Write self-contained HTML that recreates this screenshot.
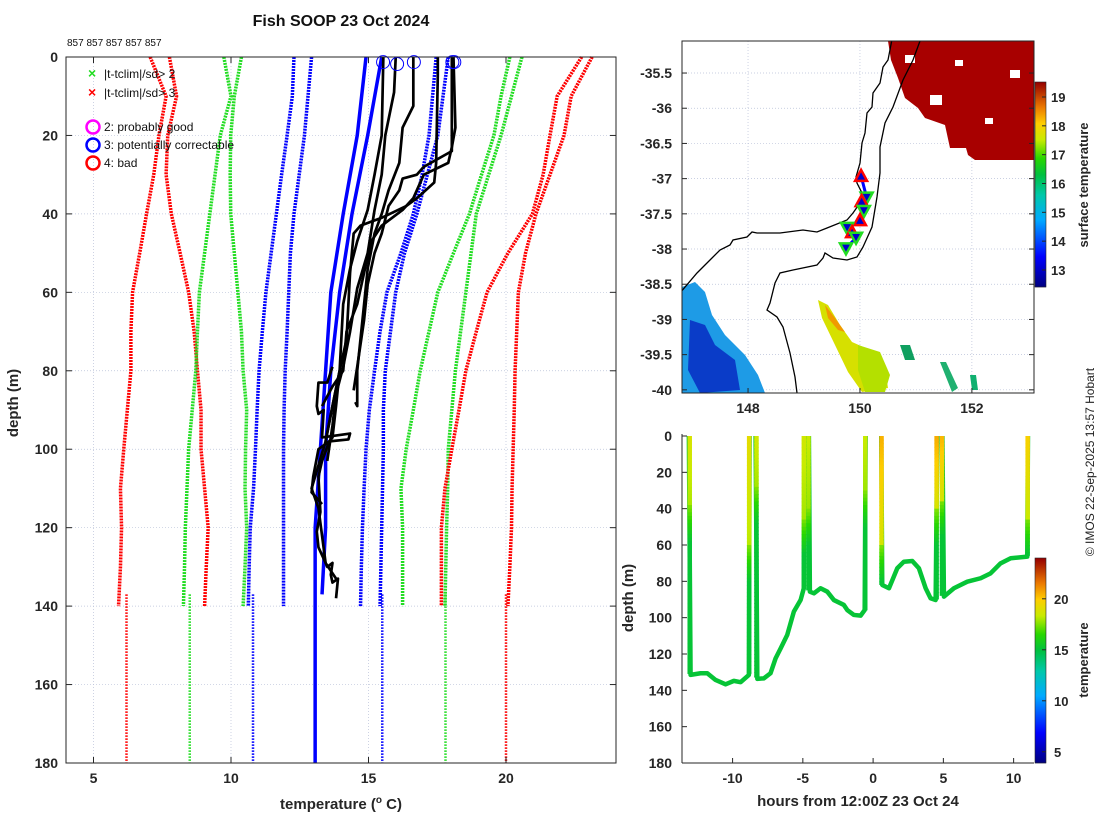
<!DOCTYPE html>
<html><head><meta charset="utf-8"><style>
html,body{margin:0;padding:0;background:#fff}
svg{display:block;font-family:"Liberation Sans",sans-serif}
</style></head><body>
<svg id="fig" width="1100" height="820" viewBox="0 0 1100 820" xmlns="http://www.w3.org/2000/svg">
<rect width="1100" height="820" fill="#fff"/>
<text x="341" y="26" text-anchor="middle" font-size="16" font-weight="bold" fill="#111">Fish SOOP 23 Oct 2024</text>
<text x="67" y="46" font-size="10" fill="#111">857 857 857 857 857</text>
<g id="left"></g>
<g id="map"></g>
<g id="bot"></g>
<text transform="translate(1094,462) rotate(-90)" text-anchor="middle" font-size="12" fill="#222">© IMOS 22-Sep-2025 13:57 Hobart</text>
</svg>
<script>
// ---------- data: profile plot ----------
const depths=[0,10,20,30,40,50,60,70,80,90,100,110,120,130,140];
const climRed1=[7.06,7.64,7.38,7.19,6.93,6.68,6.42,6.36,6.36,6.23,6.10,5.98,6.02,5.98,5.91];
const climRed2=[7.76,8.02,7.70,7.64,7.83,8.15,8.46,8.66,8.78,8.91,8.91,9.04,9.17,9.10,9.04];
const climGreen1=[9.74,10.0,9.61,9.42,9.23,9.04,8.85,8.78,8.72,8.59,8.46,8.40,8.34,8.31,8.27];
const climGreen2=[10.38,10.12,9.99,9.97,9.99,10.12,10.25,10.38,10.44,10.57,10.53,10.51,10.57,10.51,10.44];
const climBlue1=[12.29,12.23,12.04,11.84,11.65,11.46,11.27,11.14,11.02,10.95,10.89,10.82,10.70,10.66,10.63];
const climBlue2=[12.93,12.80,12.67,12.48,12.29,12.16,12.10,12.04,11.97,11.93,11.91,11.91,11.91,11.91,11.91];
const climBlue3=[17.46,17.33,17.20,16.95,16.63,16.18,15.67,15.42,15.22,15.03,14.91,14.84,14.78,14.74,14.71];
const climBlue4=[17.90,17.71,17.52,17.14,16.76,16.31,15.99,15.80,15.61,15.54,15.54,15.51,15.48,15.45,15.42];
const climGreen3=[20.14,19.82,19.56,19.11,18.67,18.09,17.52,17.20,16.88,16.63,16.37,16.18,16.24,16.24,16.24];
const climGreen4=[20.58,20.20,19.82,19.37,18.92,18.73,18.54,18.35,18.16,18.03,17.90,17.88,17.84,17.81,17.78];
const climRed3=[22.75,21.86,21.60,21.35,20.96,20.07,19.31,18.92,18.54,18.29,18.03,17.78,17.65,17.65,17.65];
const climRed4=[23.13,22.37,22.11,21.60,21.09,20.71,20.45,20.39,20.33,20.30,20.26,20.22,20.20,20.14,20.07];
const deepTemps=[6.2,8.5,10.8,15.5,17.8,20.0];
const deepColors=['#ff0000','#22dd22','#0000ff','#0000ff','#22dd22','#ff0000'];
const blueProfDepths1=[0,20,40,60,80,100,120,140,180];
const blueProf1=[14.91,14.59,14.08,13.63,13.44,13.25,13.06,13.06,13.06];
const blueProfDepths2=[0,20,40,60,80,100,120,137];
const blueProf2=[15.48,14.97,14.40,13.95,13.63,13.44,13.44,13.31];
const k1T=[15.54,15.48,15.22,14.97,14.59,14.33,14.08,13.95,13.69,13.44,12.93,13.18,13.44,13.82];
const k1D=[0,20,30,39,47,54,63,80,89,98,110,115,129,133];
const k2T=[15.99,15.93,15.61,15.48,15.22,14.97,14.59,14.33,14.08,13.82,13.69,13.50];
const k2D=[0,9,20,30,39,50,59,70,79,86,94,103];
const k3T=[16.63,16.63,16.24,16.12,15.73,15.48,15.22,14.97,14.84,14.59,14.59,14.52];
const k3D=[0,12.5,18,27,34,40,45,54,63,80,89,88];
const k4T=[17.52,17.52,17.46,17.39,16.76,16.37,15.48,14.71,14.46,14.33,14.20,13.95,13.69,13.44];
const k4D=[0,4.5,27,32,36,38,41,43,45,55,72,80,89,98];
const k5T=[18.03,18.03,17.01,16.76,16.24,16.12,15.73,15.48,15.22,14.97,14.84,14.59,14.46];
const k5D=[0,24,28,30,31,34,38,45,50,58,67,79,85];
const k6T=[18.09,18.16,18.03,17.90,17.01,16.63,16.24,15.48,15.10,14.84,14.59,14.20,14.08,13.69,13.31];
const k6D=[0,18,23,27,30,36,39,43,47,55,63,70,80,84,89];
const k7T=[13.95,13.82,13.69,13.57,13.31,13.18,13.25,13.12,13.18,13.44,13.50,13.69,13.63,13.69,13.89,13.82];
const k7D=[80,89,97,98,103,107,116,121,125,129,130,129,132,134,133,138];
const k8T=[13.69,13.50,13.18,13.12,13.18,13.37,13.31,14.33,14.27,13.57,13.18,12.99,12.93,13.06,13.31];
const k8D=[79,83,83,89,91,90,97,96,97.5,98,100,107,111,112,114];
const flagTemps=[15.53,16.04,16.65,18.05,18.12];
const flagDepths=[1.3,1.8,1.3,1.3,1.3];
const xTicks=[5,10,15,20];
const yTicks=[0,20,40,60,80,100,120,140,160,180];

// ---------- data: map ----------
const trackLon=[150.02,150.12,150.03,150.07,150.0,149.77,149.86,149.93,149.75];
const trackLat=[-36.96,-37.27,-37.32,-37.46,-37.59,-37.70,-37.76,-37.84,-37.99];
const trackDir=['up','down','up','down','up','down','up','down','down'];
const lonTicks=[148,150,152];
const latTicks=[-35.5,-36,-36.5,-37,-37.5,-38,-38.5,-39,-39.5,-40];
const sstTicks=[13,14,15,16,17,18,19];

// ---------- data: depth-time ----------
const traceT=[[-13.11,-12.99,-12.28,-11.80,-11.21,-10.50,-9.91,-9.43,-8.84,-8.79],
 [-8.36,-8.24,-7.77,-7.30,-6.94,-6.58,-6.11,-5.64,-5.16,-4.93,-4.88],
 [-4.57,-4.50,-4.21,-3.74,-3.26,-2.79,-2.08,-1.84,-1.37,-0.89,-0.60,-0.53],
 [0.58,0.65,1.13,1.72,2.19,2.79,3.26,3.74,4.09,4.45,4.57],
 [4.93,5.04,5.75,6.70,7.65,8.36,9.07,9.79,10.97,11.02]];
const traceD=[[0,131.5,130.6,130.6,134.3,136.7,134.8,135.5,131.5,0],
 [0,133.7,133.4,130.6,122.4,116.9,109.5,96.7,90.3,83.8,0],
 [0,85.7,86.6,83.8,85.7,90.3,93,95.8,98.5,98.9,95.8,0],
 [0,82,83.8,72.8,69.2,68.8,72.8,83.8,89.3,90.3,0],
 [0,88.4,83.8,80.2,78.3,75.6,70.1,67.3,66.4,0]];
const spikeT=[-13.05,-8.82,-8.30,-4.93,-4.60,-0.56,0.60,4.52,4.90,11.0];
const spikeBottom=[131,131,133,84,85,96,82,90,88,66];
const spikeSurfTemp=[18.8,19.2,18.6,18.6,18.4,18.4,20.5,20.6,20.4,19.8];
const spikeMixD=[38,60,28,45,40,30,60,40,35,45];
const tTicks=[-10,-5,0,5,10];
const dTicks=[0,20,40,60,80,100,120,140,160,180];
const tempBarTicks=[5,10,15,20];

const NS='http://www.w3.org/2000/svg';
function mk(parent,tag,attrs){const e=document.createElementNS(NS,tag);for(const k in attrs)e.setAttribute(k,attrs[k]);parent.appendChild(e);return e;}
const stops=[[0,[0,0,127]],[0.15,[0,0,255]],[0.33,[0,170,255]],[0.45,[0,200,170]],[0.55,[0,192,64]],[0.63,[40,215,0]],[0.72,[200,235,0]],[0.8,[255,205,0]],[0.88,[235,120,0]],[1,[150,0,0]]];
function cmap(v){v=Math.max(0,Math.min(1,v));for(let i=1;i<stops.length;i++){if(v<=stops[i][0]){const a=stops[i-1],b=stops[i];const f=(v-a[0])/(b[0]-a[0]);const c=a[1].map((x,j)=>Math.round(x+(b[1][j]-x)*f));return 'rgb('+c.join(',')+')';}}return 'rgb(150,0,0)';}

// ================= LEFT PLOT =================
(function(){
const g=document.getElementById('left');
const L=66,R=616,T=57,B=763;
const xs=t=>L+(t-4)/20*(R-L), ys=d=>T+d/180*(B-T);
xTicks.forEach(v=>{const l=mk(g,'line',{x1:xs(v),x2:xs(v),y1:T,y2:B,stroke:'#b8c0d8','stroke-width':0.7,'stroke-dasharray':'1 2'});
});
yTicks.forEach(v=>{const l=mk(g,'line',{x1:L,x2:R,y1:ys(v),y2:ys(v),stroke:'#b8c0d8','stroke-width':0.7,'stroke-dasharray':'1 2'});
});
const clim=[[climRed1,'#ff0000'],[climRed2,'#ff0000'],[climGreen1,'#22dd22'],[climGreen2,'#22dd22'],[climBlue1,'#0000ff'],[climBlue2,'#0000ff'],[climBlue3,'#0000ff'],[climBlue4,'#0000ff'],[climGreen3,'#22dd22'],[climGreen4,'#22dd22'],[climRed3,'#ff0000'],[climRed4,'#ff0000']];
clim.forEach(([arr,c])=>{const p=mk(g,'polyline',{points:arr.map((t,i)=>xs(t)+','+ys(depths[i])).join(' '),fill:'none',stroke:c,'stroke-width':3.5,'stroke-dasharray':'2 1'});
});
deepTemps.forEach((t,i)=>{const p=mk(g,'line',{x1:xs(t),x2:xs(t),y1:ys(137),y2:B,stroke:deepColors[i],'stroke-width':2.5,'stroke-dasharray':'1.5 1.5'});
});
[[blueProf1,blueProfDepths1],[blueProf2,blueProfDepths2]].forEach(([a,d])=>{const p=mk(g,'polyline',{points:a.map((t,i)=>xs(t)+','+ys(d[i])).join(' '),fill:'none',stroke:'#0000ff','stroke-width':3.5});
});
[[k1T,k1D],[k2T,k2D],[k3T,k3D],[k4T,k4D],[k5T,k5D],[k6T,k6D],[k7T,k7D],[k8T,k8D]].forEach(([a,d])=>{const p=mk(g,'polyline',{points:a.map((t,i)=>xs(t)+','+ys(d[i])).join(' '),fill:'none',stroke:'#000','stroke-width':2.7,'stroke-linejoin':'round'});
});
flagTemps.forEach((t,i)=>{const c=mk(g,'circle',{cx:xs(t),cy:ys(flagDepths[i]),r:6.5,fill:'none',stroke:'#0000ff','stroke-width':1});
});
// legend
const lg=mk(g,'g',{});
[['#22dd22','|t-tclim|/sd> 2',74],['#ff0000','|t-tclim|/sd> 3',93]].forEach(([c,s,y])=>{
 const t=mk(lg,'text',{x:88,y:y+4,'font-size':14,'font-weight':'bold',fill:c});t.textContent='×';
 const u=mk(lg,'text',{x:104,y:y+4,'font-size':12,fill:'#111'});u.textContent=s;});
[['#ff00ff','2: probably good',127],['#0000ff','3: potentially correctable',145],['#ff0000','4: bad',163]].forEach(([c,s,y])=>{
 const ci=mk(lg,'circle',{cx:93,cy:y,r:6.5,fill:'none',stroke:c,'stroke-width':2.5});
 const u=mk(lg,'text',{x:104,y:y+4,'font-size':12,fill:'#111'});u.textContent=s;});
// axes box
const bx=mk(g,'rect',{x:L,y:T,width:R-L,height:B-T,fill:'none',stroke:'#262626','stroke-width':1});
xTicks.forEach(v=>{mk(g,'line',{x1:xs(v),x2:xs(v),y1:B,y2:B-6,stroke:'#262626'});mk(g,'line',{x1:xs(v),x2:xs(v),y1:T,y2:T+6,stroke:'#262626'});
 const t=mk(g,'text',{x:xs(v),y:B+20,'text-anchor':'middle','font-size':14,'font-weight':'bold',fill:'#262626'});t.textContent=v;});
yTicks.forEach(v=>{mk(g,'line',{x1:L,x2:L+6,y1:ys(v),y2:ys(v),stroke:'#262626'});mk(g,'line',{x1:R,x2:R-6,y1:ys(v),y2:ys(v),stroke:'#262626'});
 const t=mk(g,'text',{x:L-8,y:ys(v)+5,'text-anchor':'end','font-size':14,'font-weight':'bold',fill:'#262626'});t.textContent=v;});
const xl=mk(g,'text',{x:341,y:809,'text-anchor':'middle','font-size':15,'font-weight':'bold',fill:'#262626'});xl.innerHTML='temperature (<tspan dy="-6" font-size="10">o</tspan><tspan dy="6"> C)</tspan>';
const yl=mk(g,'text',{transform:'translate(18,403) rotate(-90)','text-anchor':'middle','font-size':15,'font-weight':'bold',fill:'#262626'});yl.textContent='depth (m)';
})();

// ================= MAP =================
(function(){
const g=document.getElementById('map');
const L=682,R=1034,T=41,B=393;
const lon0=146.82,lon1=153.11,lat0=-35.045,lat1=-40.045;
const xs=v=>L+(v-lon0)/(lon1-lon0)*(R-L), ys=v=>T+(v-lat0)/(lat1-lat0)*(B-T);
mk(g,'defs',{}).innerHTML='<clipPath id="mclip"><rect x="682" y="41" width="352" height="352"/></clipPath>';
const inner=mk(g,'g',{'clip-path':'url(#mclip)'});
lonTicks.forEach(v=>{const l=mk(inner,'line',{x1:xs(v),x2:xs(v),y1:T,y2:B,stroke:'#b8c0d8','stroke-width':0.7,'stroke-dasharray':'1 2'});});
latTicks.forEach(v=>{const l=mk(inner,'line',{x1:L,x2:R,y1:ys(v),y2:ys(v),stroke:'#b8c0d8','stroke-width':0.7,'stroke-dasharray':'1 2'});});
const sst=[
 ['888,41 1034,41 1034,160 975,160 968,155 966,148 950,148 945,125 925,118 918,108 905,98 898,78 891,60','#a80000'],
 ['682,287 695,282 705,292 712,315 725,335 745,355 758,375 765,393 682,393','#1e9be6'],
 ['690,320 705,325 715,345 735,360 740,390 700,393 688,370','#0a3cc8'],
 ['818,300 828,305 840,325 852,342 870,350 885,368 888,388 862,392 848,372 835,345 822,318','#d6e000'],
 ['825,305 835,318 845,332 838,330 828,318','#f09a00'],
 ['858,345 880,352 890,375 885,392 865,392 858,370','#b4e000'],
 ['940,362 946,362 958,388 952,392','#20b070'],
 ['900,345 910,345 915,360 905,360','#10a060'],
 ['970,375 976,375 978,390 972,390','#10b070']];
sst.forEach(([p,c])=>{const e=mk(inner,'polygon',{points:p,fill:c});});
[[930,95,12,10],[985,118,8,6],[1010,70,10,8],[905,55,10,8],[955,60,8,6]].forEach(([x,y,w,h])=>mk(inner,'rect',{x,y,width:w,height:h,fill:'#fff'}));
const coast=mk(inner,'polyline',{points:'891.7,41 888,60 883,67 880,83 873,93 872,107 867,113 865,133 862,143 860,163 856,177 857,183 862,193 860,203 853,213 847,220 827,228 817,232 803,230 780,233 757,233 752,232 747,237 733,240 730,245 720,250 710,260 697,273 680,293',fill:'none',stroke:'#000','stroke-width':1.3});

const shelf=mk(inner,'polyline',{points:'920,41 913,60 903,80 893,107 885,123 880,147 880,173 877,197 872,227 863,247 857,257 847,260 833,258 825,253 823,258 817,265 793,270 780,273 775,283 770,303 767,310 777,317 783,327 790,353 795,377 797,393',fill:'none',stroke:'#000','stroke-width':1.3});

const tr=mk(inner,'polyline',{points:trackLon.map((v,i)=>xs(v)+','+ys(trackLat[i])).join(' '),fill:'none',stroke:'#0000ff','stroke-width':3});

trackLon.forEach((v,i)=>{const x=xs(v),y=ys(trackLat[i]);const up=trackDir[i]==='up';
 const pts=up?`${x},${y-6} ${x-6},${y+5} ${x+6},${y+5}`:`${x},${y+6} ${x-6},${y-5} ${x+6},${y-5}`;
 const p=mk(inner,'polygon',{points:pts,fill:'#0000cc',stroke:up?'#ff0000':'#22dd22','stroke-width':2.5});
 });
const bx=mk(g,'rect',{x:L,y:T,width:R-L,height:B-T,fill:'none',stroke:'#262626','stroke-width':1});
lonTicks.forEach(v=>{mk(g,'line',{x1:xs(v),x2:xs(v),y1:B,y2:B-5,stroke:'#262626'});
 const t=mk(g,'text',{x:xs(v),y:B+20,'text-anchor':'middle','font-size':14,'font-weight':'bold',fill:'#262626'});t.textContent=v;});
latTicks.forEach(v=>{mk(g,'line',{x1:L,x2:L+5,y1:ys(v),y2:ys(v),stroke:'#262626'});mk(g,'line',{x1:R,x2:R-5,y1:ys(v),y2:ys(v),stroke:'#262626'});
 const t=mk(g,'text',{x:L-10,y:ys(v)+5,'text-anchor':'end','font-size':14,'font-weight':'bold',fill:'#262626'});t.textContent=v;});
// colorbar
const cb=mk(g,'g',{});
const vmin=12.41,vmax=19.52,cT=82,cB=287;const cy=v=>cB-(v-vmin)/(vmax-vmin)*(cB-cT);
for(let y=cT;y<cB;y++){const v=vmax-(y-cT)/(cB-cT)*(vmax-vmin);mk(cb,'rect',{x:1035,y:y,width:11,height:1.2,fill:cmap((v-vmin)/(vmax-vmin))});}
mk(cb,'rect',{x:1035,y:cT,width:11,height:cB-cT,fill:'none',stroke:'#262626','stroke-width':0.6});
sstTicks.forEach(v=>{mk(cb,'line',{x1:1046,x2:1042,y1:cy(v),y2:cy(v),stroke:'#262626'});
 const t=mk(cb,'text',{x:1051,y:cy(v)+5,'font-size':13,'font-weight':'bold',fill:'#262626'});t.textContent=v;});
const lt=mk(g,'text',{transform:'translate(1088,185) rotate(-90)','text-anchor':'middle','font-size':13,'font-weight':'bold',fill:'#262626'});lt.textContent='surface temperature';
})();

// ================= DEPTH-TIME =================
(function(){
const g=document.getElementById('bot');
const L=682,R=1034,T=434,B=763;
const t0=-13.6,t1=11.45,d0=-1.1,d1=180;
const xs=v=>L+(v-t0)/(t1-t0)*(R-L), ys=v=>T+(v-d0)/(d1-d0)*(B-T);
const base=cmap((15.2-3.9)/(24-3.9));
traceT.forEach((arr,k)=>{const p=mk(g,'polyline',{points:arr.map((t,i)=>xs(t)+','+ys(traceD[k][i])).join(' '),fill:'none',stroke:base,'stroke-width':4.5,'stroke-linejoin':'round'});
 });
spikeT.forEach((t,i)=>{const sg=mk(g,'g',{});
 const step=2;for(let d=0;d<spikeBottom[i];d+=step){let v;const m=spikeMixD[i];
  if(d<m)v=spikeSurfTemp[i]-(spikeSurfTemp[i]-17.5)*d/m*0.6;else v=Math.max(15.2,17.5-(d-m)*0.12);
  mk(sg,'line',{x1:xs(t),x2:xs(t),y1:ys(d),y2:ys(Math.min(d+step+0.5,spikeBottom[i])),stroke:cmap((v-3.9)/(24-3.9)),'stroke-width':4.5});}});
mk(g,'line',{x1:L,x2:L,y1:T,y2:B,stroke:'#262626'});mk(g,'line',{x1:L,x2:R,y1:B,y2:B,stroke:'#262626'});
tTicks.forEach(v=>{mk(g,'line',{x1:xs(v),x2:xs(v),y1:B,y2:B-5,stroke:'#262626'});
 const t=mk(g,'text',{x:xs(v),y:B+20,'text-anchor':'middle','font-size':14,'font-weight':'bold',fill:'#262626'});t.textContent=v;});
dTicks.forEach(v=>{mk(g,'line',{x1:L,x2:L+5,y1:ys(v),y2:ys(v),stroke:'#262626'});
 const t=mk(g,'text',{x:L-10,y:ys(v)+5,'text-anchor':'end','font-size':14,'font-weight':'bold',fill:'#262626'});t.textContent=v;});
const xl=mk(g,'text',{x:858,y:806,'text-anchor':'middle','font-size':15,'font-weight':'bold',fill:'#262626'});xl.textContent='hours from 12:00Z 23 Oct 24';
const yl=mk(g,'text',{transform:'translate(633,598) rotate(-90)','text-anchor':'middle','font-size':15,'font-weight':'bold',fill:'#262626'});yl.textContent='depth (m)';
const cb=mk(g,'g',{});
const vmin=3.9,vmax=24,cT=558,cB=763;const cy=v=>cB-(v-vmin)/(vmax-vmin)*(cB-cT);
for(let y=cT;y<cB;y++){const v=vmax-(y-cT)/(cB-cT)*(vmax-vmin);mk(cb,'rect',{x:1035,y:y,width:11,height:1.2,fill:cmap((v-vmin)/(vmax-vmin))});}
mk(cb,'rect',{x:1035,y:cT,width:11,height:cB-cT,fill:'none',stroke:'#262626','stroke-width':0.6});
tempBarTicks.forEach(v=>{mk(cb,'line',{x1:1046,x2:1042,y1:cy(v),y2:cy(v),stroke:'#262626'});
 const t=mk(cb,'text',{x:1054,y:cy(v)+5,'font-size':13,'font-weight':'bold',fill:'#262626'});t.textContent=v;});
const lt=mk(g,'text',{transform:'translate(1088,660) rotate(-90)','text-anchor':'middle','font-size':13,'font-weight':'bold',fill:'#262626'});lt.textContent='temperature';
})();
</script>
</body></html>
